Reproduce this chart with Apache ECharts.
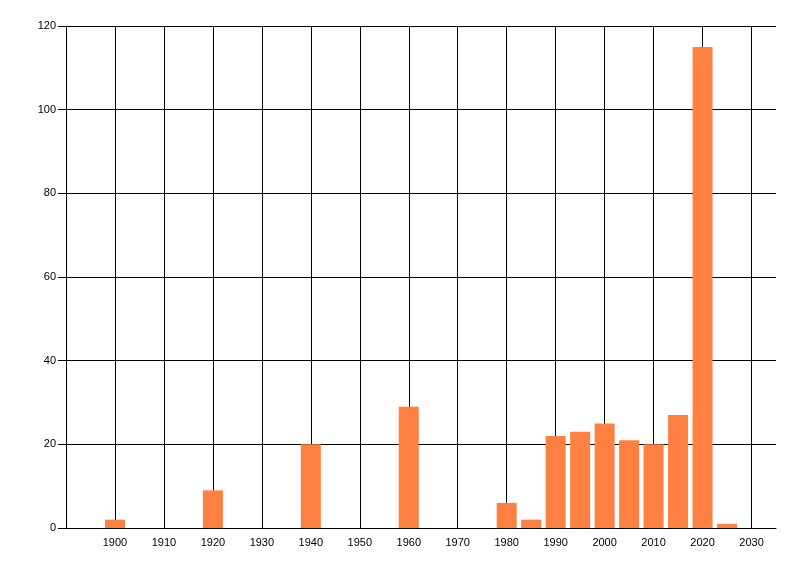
<!DOCTYPE html>
<html>
<head>
<meta charset="utf-8">
<script src="https://cdn.jsdelivr.net/npm/echarts@6/dist/echarts.min.js"></script>
<style>
  html, body { margin: 0; padding: 0; background: #fff; }
  #chart { width: 800px; height: 576px; }
</style>
</head>
<body>
<div id="chart"></div>
<script>
// data
const years = [1900, 1920, 1940, 1960, 1980, 1985, 1990, 1995, 2000, 2005, 2010, 2015, 2020, 2025];
const counts = [2, 9, 20, 29, 6, 2, 22, 23, 25, 21, 20, 27, 115, 1];
const gridYears = [1900, 1910, 1920, 1930, 1940, 1950, 1960, 1970, 1980, 1990, 2000, 2010, 2020, 2030];

const chart = echarts.init(document.getElementById("chart"));

const labelFont = { fontFamily: "Liberation Sans", fontSize: 11, color: "#000" };

chart.setOption({
  animation: false,
  grid: { left: 66, right: 24, top: 26, bottom: 48 },
  xAxis: {
    type: "value",
    min: 1890,
    max: 2035,
    interval: 10,
    axisLine: { show: true, lineStyle: { color: "#000", width: 1 } },
    axisTick: { show: false },
    splitLine: { show: false },
    axisLabel: Object.assign({
      showMinLabel: false,
      showMaxLabel: false,
      margin: 9,
      formatter: v => String(v)
    }, labelFont)
  },
  yAxis: {
    type: "value",
    min: 0,
    max: 120,
    interval: 20,
    axisLine: { show: true, lineStyle: { color: "#000", width: 1 } },
    axisTick: { show: true, length: 8, lineStyle: { color: "#000" } },
    splitLine: { show: true, lineStyle: { color: "#000", width: 1 } },
    axisLabel: Object.assign({ margin: 10 }, labelFont)
  },
  series: [
    {
      type: "bar",
      barWidth: 20,
      itemStyle: { color: "#FF8040" },
      data: years.map((y, i) => [y, counts[i]]),
      z: 3,
      markLine: {
        silent: true,
        symbol: "none",
        label: { show: false },
        lineStyle: { color: "#000", width: 1, type: "solid" },
        data: gridYears.map(y => ({ xAxis: y })),
        z: 1
      }
    }
  ]
});
</script>
</body>
</html>
